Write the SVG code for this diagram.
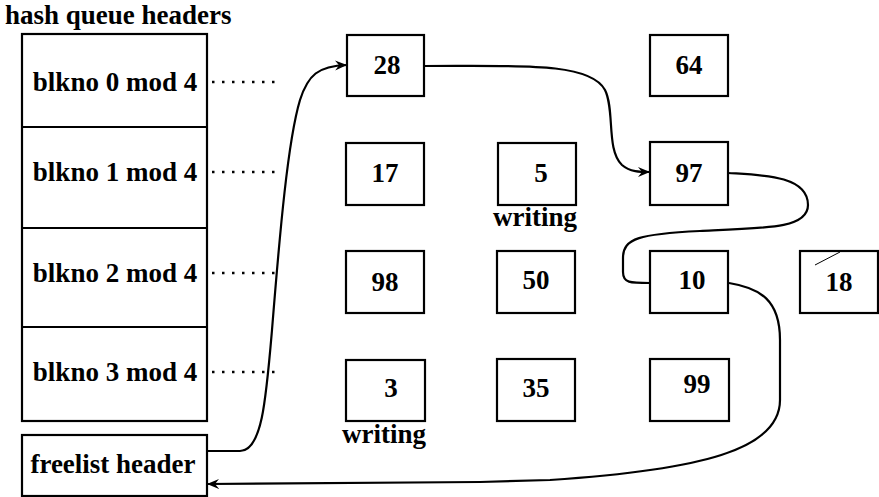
<svg xmlns="http://www.w3.org/2000/svg" width="879" height="497" viewBox="0 0 879 497">
<style>
text{font-family:"Liberation Serif","Times New Roman","DejaVu Serif",serif;font-weight:bold;font-size:27px;fill:#000}
.n{text-anchor:middle}
.box{fill:#fff;stroke:#000;stroke-width:2.2}
.dot{stroke:#000;stroke-width:2.5;stroke-dasharray:2.5 7.5;fill:none}
.con{fill:none;stroke:#000;stroke-width:2.2}
</style>
<defs>
<marker id="ah" markerWidth="14" markerHeight="12" refX="12" refY="6" orient="auto" markerUnits="userSpaceOnUse">
<path d="M0,1 L12,6 L0,11 L4,6 Z" fill="#000"/>
</marker>
</defs>
<rect width="879" height="497" fill="#fff"/>
<text x="5" y="24">hash queue headers</text>
<g id="hash-headers">
<rect class="box" x="22" y="34" width="185" height="387"/>
<line x1="22" y1="127" x2="207" y2="127" stroke="#000" stroke-width="2.2"/>
<line x1="22" y1="228" x2="207" y2="228" stroke="#000" stroke-width="2.2"/>
<line x1="22" y1="327" x2="207" y2="327" stroke="#000" stroke-width="2.2"/>
</g>
<g id="h0"><text class="n" x="115" y="91">blkno 0 mod 4</text></g>
<g id="h1"><text class="n" x="115" y="181">blkno 1 mod 4</text></g>
<g id="h2"><text class="n" x="115" y="282">blkno 2 mod 4</text></g>
<g id="h3"><text class="n" x="115" y="381">blkno 3 mod 4</text></g>
<g id="freelist"><rect class="box" x="22" y="435" width="185" height="61"/><text class="n" x="113" y="473">freelist header</text></g>
<g id="b28"><rect class="box" x="347" y="35" width="77" height="61"/><text class="n" x="387" y="74">28</text></g>
<g id="b64"><rect class="box" x="650" y="35" width="78" height="61"/><text class="n" x="689" y="74">64</text></g>
<g id="b17"><rect class="box" x="346" y="143" width="78" height="62"/><text class="n" x="385" y="182">17</text></g>
<g id="b5"><rect class="box" x="498" y="143" width="78" height="62"/><text class="n" x="541" y="182">5</text><text class="n" x="535" y="226">writing</text></g>
<g id="b97"><rect class="box" x="650" y="142" width="78" height="63"/><text class="n" x="689" y="182">97</text></g>
<g id="b98"><rect class="box" x="346" y="251" width="78" height="62"/><text class="n" x="385" y="291">98</text></g>
<g id="b50"><rect class="box" x="497" y="251" width="78" height="62"/><text class="n" x="536" y="289">50</text></g>
<g id="b10"><rect class="box" x="650" y="251" width="78" height="62"/><text class="n" x="692" y="289">10</text></g>
<g id="b18"><rect class="box" x="800" y="251" width="78" height="62"/><line x1="815" y1="265" x2="840" y2="252" stroke="#000" stroke-width="1"/><text class="n" x="839" y="291">18</text></g>
<g id="b3"><rect class="box" x="346" y="360" width="79" height="61"/><text class="n" x="391" y="397">3</text><text class="n" x="384" y="443">writing</text></g>
<g id="b35"><rect class="box" x="497" y="359" width="78" height="62"/><text class="n" x="536" y="397">35</text></g>
<g id="b99"><rect class="box" x="650" y="359" width="79" height="62"/><text class="n" x="697" y="393">99</text></g>
<g id="connectors">
<line class="dot" x1="212" y1="82" x2="276" y2="82"/>
<line class="dot" x1="212" y1="172" x2="276" y2="172"/>
<line class="dot" x1="212" y1="273" x2="276" y2="273"/>
<line class="dot" x1="212" y1="372" x2="276" y2="372"/>
<path class="con" marker-end="url(#ah)" d="M207,451 H240 C262,451 266,400 272,330 C280,230 288,140 300,100 C308,75 318,66 347,65"/>
<path class="con" marker-end="url(#ah)" d="M424,66 C520,66 590,62 605,90 C615,110 606,150 622,165 C630,172 640,172 650,172"/>
<path class="con" d="M728,173 C760,175 808,175 808,205 C808,228 770,228 700,231 C640,234 623,238 623,258 L623,272 C623,283 630,283 650,283"/>
<path class="con" marker-end="url(#ah)" d="M729,283 C760,288 780,300 780,340 L780,400 C780,450 700,470 550,480 L480,482 L207,484"/>
</g>
</svg>
